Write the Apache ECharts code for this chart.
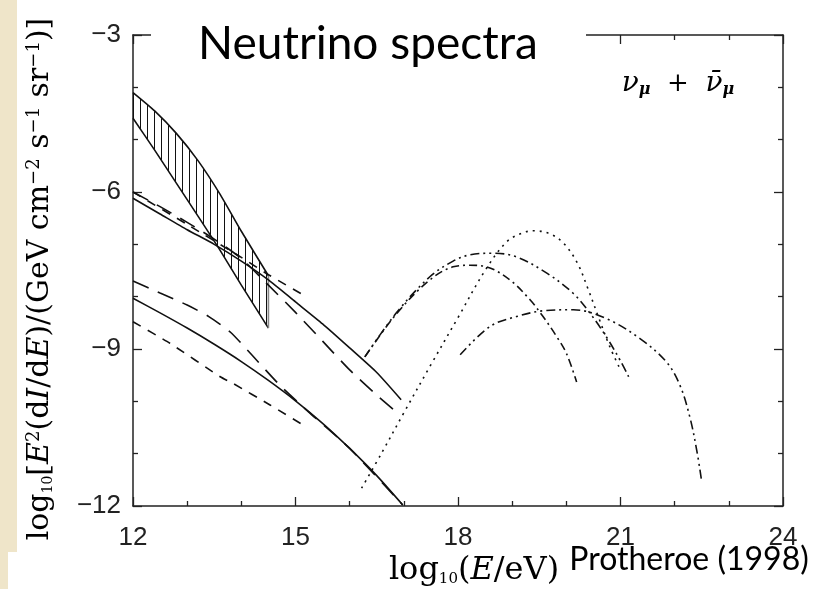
<!DOCTYPE html>
<html>
<head>
<meta charset="utf-8">
<script src="https://cdn.jsdelivr.net/npm/echarts@6/dist/echarts.min.js"></script>
<style>
	html, body { margin: 0; padding: 0; background: #fff; }
	#chart { width: 814px; height: 589px; }
</style>
</head>
<body>
<div id="chart"></div>
<script>
// axis ticks
var xTicks = [12, 15, 18, 21, 24];
var yTicks = [-12, -9, -6, -3];

// hatched band (atmospheric)
var bandX = [12, 12.4, 12.8, 13.2, 13.6, 14.0, 14.5];
var bandHi = [-4.1, -4.45, -4.88, -5.4, -6.03, -6.75, -7.6];
var bandLo = [-4.59, -5.2, -5.83, -6.46, -7.1, -7.78, -8.6];

// upper group
var solidHiX = [12, 12.5, 13, 13.5, 14, 14.5, 15, 15.5, 16, 16.5, 16.95];
var solidHiY = [-6.12, -6.42, -6.72, -7.0, -7.32, -7.68, -8.1, -8.52, -8.98, -9.45, -9.97];
var longDashHiX = [12, 12.5, 13, 13.5, 14, 14.5, 15, 15.5, 16, 16.5, 16.8];
var longDashHiY = [-6.0, -6.28, -6.58, -6.9, -7.27, -7.78, -8.3, -8.85, -9.4, -9.88, -10.15];
var shortDashHiX = [12, 13, 14, 14.5, 15.2];
var shortDashHiY = [-6.0, -6.62, -7.25, -7.58, -8.0];

// lower group
var solidLoX = [12, 12.5, 13, 13.5, 14, 14.5, 15, 15.5, 16, 16.5, 16.98];
var solidLoY = [-8.03, -8.31, -8.6, -8.91, -9.24, -9.6, -9.99, -10.42, -10.9, -11.42, -11.98];
var longDashLoX = [12, 12.5, 13, 13.4, 13.8, 14.2, 14.7, 15.24, 16, 16.98];
var longDashLoY = [-7.7, -7.93, -8.16, -8.38, -8.68, -9.12, -9.68, -10.2, -10.9, -11.98];
var shortDashLoX = [12, 12.68, 13.61, 13.85, 14.53, 15.2];
var shortDashLoY = [-8.48, -8.89, -9.53, -9.66, -10.07, -10.49];

// high energy curves
var dottedX = [16.22, 16.6, 17.0, 17.5, 18.0, 18.5, 18.9, 19.2, 19.4, 19.7, 19.95, 20.2, 20.4, 20.59, 20.8, 21.0];
var dottedY = [-11.66, -10.97, -10.22, -9.3, -8.4, -7.5, -6.95, -6.78, -6.74, -6.8, -6.98, -7.35, -7.85, -8.38, -8.95, -9.4];
var dashDotX = [16.28, 16.87, 17.48, 17.91, 18.22, 18.53, 18.96, 19.33, 19.57, 19.82, 20.0, 20.19];
var dashDotY = [-9.15, -8.32, -7.68, -7.43, -7.4, -7.43, -7.68, -8.06, -8.38, -8.76, -9.08, -9.63];
var dashDot2X = [16.28, 16.87, 17.48, 17.91, 18.22, 18.65, 19.08, 19.64, 20.13, 20.44, 20.74, 20.99, 21.15];
var dashDot2Y = [-9.15, -8.3, -7.62, -7.32, -7.2, -7.17, -7.24, -7.55, -7.94, -8.32, -8.77, -9.21, -9.53];
var dashDot3X = [18.04, 18.59, 19.08, 19.57, 20.13, 20.74, 21.36, 21.85, 22.1, 22.28, 22.41, 22.5];
var dashDot3Y = [-9.11, -8.57, -8.38, -8.27, -8.25, -8.42, -8.8, -9.25, -9.7, -10.3, -10.95, -11.54];

(function () {

	var ink = '#111';

	function pairs(xs, ys) {
		var out = [];
		for (var i = 0; i < xs.length; i++) {
			out.push([xs[i], ys[i]]);
		}
		return out;
	}

	function curve(name, xs, ys, dash, smooth) {
		return {
			name: name,
			type: 'line',
			data: pairs(xs, ys),
			symbol: 'none',
			smooth: smooth || 0.2,
			lineStyle: { color: ink, width: 1.6, type: dash },
			z: 3
		};
	}

	// vertical hatch pattern
	var hatch = document.createElement('canvas');
	hatch.width = 7;
	hatch.height = 4;
	var ctx = hatch.getContext('2d');
	ctx.fillStyle = '#111';
	ctx.fillRect(0, 0, 1, 4);

	var last = bandX.length - 1;

	var chart = echarts.init(document.getElementById('chart'), null, { renderer: 'canvas' });

	var tickFont = { fontFamily: 'Liberation Sans', fontSize: 26, color: '#222' };

	function xAxisDef(pos, labels) {
		return {
			type: 'value', position: pos, min: xTicks[0], max: xTicks[xTicks.length - 1], interval: 3,
			axisLine: { show: true, onZero: false, lineStyle: { color: '#222', width: 1.5 } },
			axisTick: { show: true, inside: true, length: 9, lineStyle: { color: '#222', width: 1.3 } },
			minorTick: { show: true, splitNumber: 3, length: 5, lineStyle: { color: '#222', width: 1.3 } },
			axisLabel: Object.assign({ show: labels, margin: 19 }, tickFont),
			splitLine: { show: false }
		};
	}

	function yAxisDef(pos, labels) {
		return {
			type: 'value', position: pos, min: yTicks[0], max: yTicks[yTicks.length - 1], interval: 3,
			axisLine: { show: true, onZero: false, lineStyle: { color: '#222', width: 1.5 } },
			axisTick: { show: true, inside: true, length: 9, lineStyle: { color: '#222', width: 1.3 } },
			minorTick: { show: true, splitNumber: 3, length: 5, lineStyle: { color: '#222', width: 1.3 } },
			axisLabel: Object.assign({
				show: labels, margin: 12,
				formatter: function (v) { return v < 0 ? '\u2212' + (-v) : String(v); }
			}, tickFont),
			splitLine: { show: false }
		};
	}

	chart.setOption({
		animation: false,
		backgroundColor: '#fff',
		grid: { left: 133, top: 35, right: 31, bottom: 83 },
		xAxis: [xAxisDef('bottom', true), xAxisDef('top', false)],
		yAxis: [yAxisDef('left', true), yAxisDef('right', false)],
		series: [
			{
				// hatched band
				type: 'custom',
				data: [0],
				z: 2,
				renderItem: function (params, api) {
					var pts = [];
					var i;
					for (i = 0; i < bandX.length; i++) pts.push(api.coord([bandX[i], bandHi[i]]));
					for (i = bandX.length - 1; i >= 0; i--) pts.push(api.coord([bandX[i], bandLo[i]]));
					return {
						type: 'polygon',
						shape: { points: pts },
						style: { fill: { image: hatch, repeat: 'repeat' }, stroke: null }
					};
				}
			},
			curve('bandHi', bandX, bandHi, 'solid'),
			curve('bandLo', bandX, bandLo, 'solid'),
			{
				name: 'bandEdge', type: 'line', symbol: 'none',
				data: [[bandX[last], bandHi[last]], [bandX[last], bandLo[last]]],
				lineStyle: { color: '#888', width: 1.6 }
			},
			curve('solidHi', solidHiX, solidHiY, 'solid'),
			curve('longDashHi', longDashHiX, longDashHiY, [17, 10]),
			curve('shortDashHi', shortDashHiX, shortDashHiY, [9, 8]),
			curve('solidLo', solidLoX, solidLoY, 'solid'),
			curve('longDashLo', longDashLoX, longDashLoY, [17, 10]),
			curve('shortDashLo', shortDashLoX, shortDashLoY, [9, 8]),
			curve('dotted', dottedX, dottedY, [2, 5], 0.35),
			curve('dashDot', dashDotX, dashDotY, [8, 4, 2, 4], 0.35),
			curve('dashDot2', dashDot2X, dashDot2Y, [9, 4, 2, 4, 2, 4], 0.35),
			curve('dashDot3', dashDot3X, dashDot3Y, [9, 4, 2, 4, 2, 4], 0.35)
		],
		graphic: [
			// beige slide edge
			{ type: 'rect', shape: { x: 0, y: 0, width: 17, height: 552 }, style: { fill: '#efe5c9' }, z: 100 },
			{ type: 'rect', shape: { x: 0, y: 552, width: 8, height: 37 }, style: { fill: '#efe5c9' }, z: 100 },
			// title box over the top axis
			{ type: 'rect', shape: { x: 151, y: 0, width: 435, height: 66 }, style: { fill: '#fff' }, z: 100 },
			{
				type: 'text', x: 368, y: 44, z: 101,
				style: { text: 'Neutrino spectra', fontFamily: 'Lato', fontSize: 46, fill: '#000', align: 'center', verticalAlign: 'middle' }
			},
			{
				type: 'text', x: 678, y: 84, z: 101,
				style: {
					text: '{n|\u03bd}{s|\u03bc}  +  {n|\u03bd\u0304}{s|\u03bc}',
					align: 'center', verticalAlign: 'middle', fill: '#000',
					rich: {
						n: { fontFamily: 'DejaVu Serif', fontStyle: 'italic', fontSize: 28, fill: '#000' },
						s: { fontFamily: 'DejaVu Serif', fontStyle: 'italic', fontWeight: 'bold', fontSize: 16, fill: '#000', verticalAlign: 'bottom' }
					},
					fontFamily: 'DejaVu Serif', fontSize: 26
				}
			},
			{
				type: 'text', x: 40, y: 279, rotation: Math.PI / 2, z: 101,
				style: {
					text: 'log{sub|10}[{i|E}{sup|2}(d{i|I}/d{i|E})/(GeV cm{sup|\u22122} s{sup|\u22121} sr{sup|\u22121})]',
					align: 'center', verticalAlign: 'middle', fill: '#000',
					fontFamily: 'DejaVu Serif', fontSize: 30,
					rich: {
						i: { fontFamily: 'DejaVu Serif', fontStyle: 'italic', fontSize: 30, fill: '#000' },
						sup: { fontFamily: 'DejaVu Serif', fontSize: 18, fill: '#000', verticalAlign: 'top' },
						sub: { fontFamily: 'DejaVu Serif', fontSize: 14, fill: '#000', verticalAlign: 'bottom' }
					}
				}
			},
			{
				type: 'text', x: 474, y: 571, z: 101,
				style: {
					text: 'log{sub|10}({i|E}/eV)',
					align: 'center', verticalAlign: 'middle', fill: '#000',
					fontFamily: 'DejaVu Serif', fontSize: 32,
					rich: {
						i: { fontFamily: 'DejaVu Serif', fontStyle: 'italic', fontSize: 32, fill: '#000' },
						sub: { fontFamily: 'DejaVu Serif', fontSize: 15, fill: '#000', verticalAlign: 'bottom' }
					}
				}
			},
			{
				type: 'text', x: 689, y: 560, z: 101,
				style: { text: 'Protheroe (1998)', fontFamily: 'Lato', fontSize: 32, fill: '#000', align: 'center', verticalAlign: 'middle' }
			}
		]
	});
})();
</script>
</body>
</html>
